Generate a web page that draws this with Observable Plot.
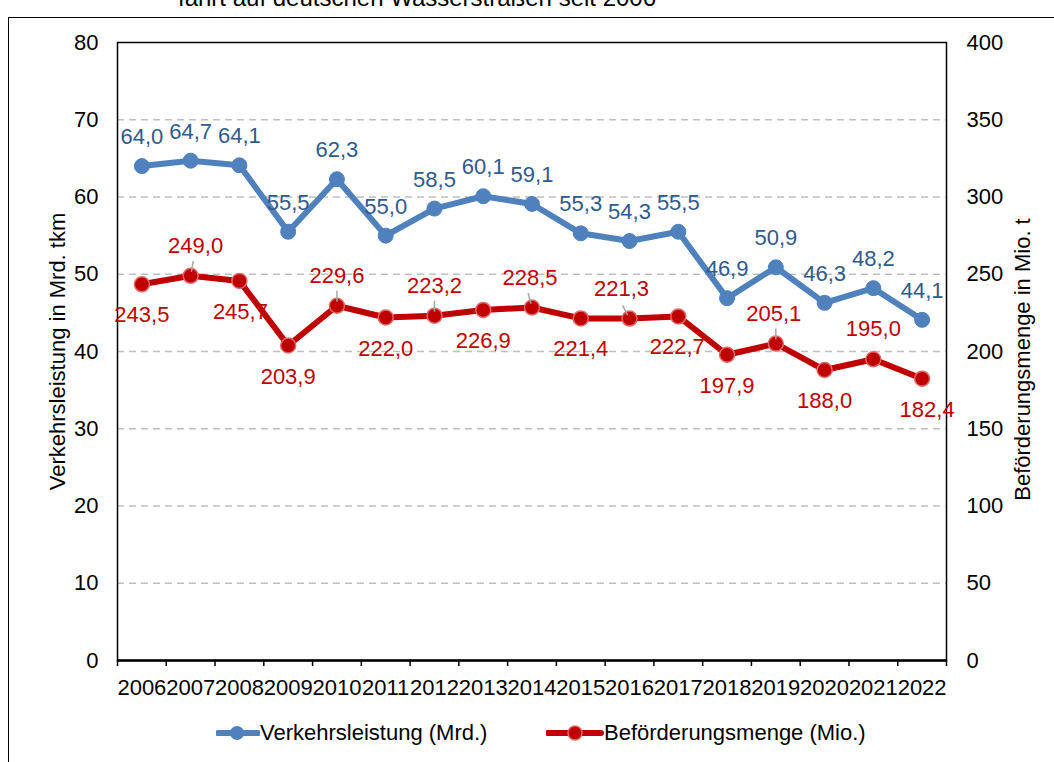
<!DOCTYPE html>
<html>
<head>
<meta charset="utf-8">
<script src="https://cdn.jsdelivr.net/npm/d3@7"></script>
<script src="https://cdn.jsdelivr.net/npm/@observablehq/plot@0.6"></script>
<style>
  html, body { margin: 0; padding: 0; background: #fff; width: 1054px; height: 762px; overflow: hidden; }
  body { position: relative; font-family: "Liberation Sans", Arial, sans-serif; }
  #chart { position: absolute; left: 0; top: 0; }
  #frame { position: absolute; left: 8px; top: 17px; width: 3000px; height: 3000px;
           border-left: 1.5px solid #000; border-top: 1.5px solid #000; pointer-events: none; }
  #title { position: absolute; left: 178px; top: -14px; font-size: 24px; line-height: 24px; white-space: nowrap; color: #000; }
  .leg { position: absolute; top: 721px; height: 24px; display: flex; align-items: center; font-size: 22px; color: #000; white-space: nowrap; }
</style>
</head>
<body>
<div id="title">fahrt auf deutschen Wasserstraßen seit 2006</div>
<div id="chart"></div>
<div id="frame"></div>
<div class="leg" style="left:216px">
  <svg width="44" height="24"><line x1="2" y1="12" x2="42" y2="12" stroke="#4F81BD" stroke-width="6" stroke-linecap="round"/><circle cx="21" cy="12" r="7" fill="#4F81BD"/></svg>
  <span>Verkehrsleistung (Mrd.)</span>
</div>
<div class="leg" style="left:546px">
  <svg width="58" height="24"><line x1="2" y1="12" x2="55" y2="12" stroke="#C00000" stroke-width="6" stroke-linecap="round"/><circle cx="29" cy="12" r="7" fill="#C00000" stroke="#E06a6a" stroke-width="1.5"/></svg>
  <span>Beförderungsmenge (Mio.)</span>
</div>
<script>
// ---- data ----
const years = [2006, 2007, 2008, 2009, 2010, 2011, 2012, 2013, 2014, 2015, 2016, 2017, 2018, 2019, 2020, 2021, 2022];
const verkehrsleistung = [64.0, 64.7, 64.1, 55.5, 62.3, 55.0, 58.5, 60.1, 59.1, 55.3, 54.3, 55.5, 46.9, 50.9, 46.3, 48.2, 44.1];
const befoerderungsmenge = [243.5, 249.0, 245.7, 203.9, 229.6, 222.0, 223.2, 226.9, 228.5, 221.4, 221.3, 222.7, 197.9, 205.1, 188.0, 195.0, 182.4];
const leftTicks = [0, 10, 20, 30, 40, 50, 60, 70, 80];
const rightTickFactor = 5; // right axis (Mio. t) = left axis * 5

// label placement (style): 1 = below, -1 = above
const redLabelSide = [1, -1, 1, 1, -1, 1, -1, 1, -1, 1, -1, 1, 1, -1, 1, -1, 1];
const redLabelShift = [0, 5, 1, 0, 0, 0, 0, 0, -2, 0, -8, -1, 0, -2, 0, 0, 5];
// leader line angle (degrees, 0 = straight up), null = no leader
const redLeader = [null, 10, null, null, 0, null, 0, null, -15, null, -28, null, null, 0, null, null, null];

// ---- layout ----
const W = 1054, H = 762, ML = 117, MR = 108, MT = 42, MB = 102;
const pxPerYear = (W - ML - MR) / years.length;
const pxPerUnit = (H - MT - MB) / 80;
const FS = 22;

const fmt = v => v.toFixed(1).replace(".", ",");
const blue = years.map((year, i) => ({year, v: verkehrsleistung[i], y: verkehrsleistung[i]}));
const red = years.map((year, i) => ({year, v: befoerderungsmenge[i], y: befoerderungsmenge[i] / rightTickFactor,
  side: redLabelSide[i], shift: redLabelShift[i], leader: redLeader[i]}));

const redAbove = red.filter(d => d.side < 0);
const redBelow = red.filter(d => d.side > 0);
const leaders = red.filter(d => d.leader !== null).map(d => {
  const a = d.leader * Math.PI / 180;
  const startOff = 4, len = 11;
  return {
    x1: d.year + (startOff * Math.sin(a)) / pxPerYear,
    y1: d.y + (startOff * Math.cos(a)) / pxPerUnit,
    x2: d.year + ((startOff + len) * Math.sin(a)) / pxPerYear,
    y2: d.y + ((startOff + len) * Math.cos(a)) / pxPerUnit
  };
});

const font = "'Liberation Sans', Arial, sans-serif";

const chart = Plot.plot({
  width: W, height: H,
  marginLeft: ML, marginRight: MR, marginTop: MT, marginBottom: MB,
  style: {fontFamily: font, fontSize: FS + "px", background: "transparent", color: "#000", overflow: "visible"},
  x: {domain: [years[0] - 0.5, years[years.length - 1] + 0.5]},
  y: {domain: [0, 80]},
  marks: [
    Plot.ruleY(leftTicks.filter(t => t > 0 && t < 80), {stroke: "#BFBFBF", strokeWidth: 1.5, strokeDasharray: "7,5"}),
    Plot.axisY({ticks: leftTicks, tickSize: 0, tickPadding: 19, label: null, fontSize: FS}),
    Plot.axisY({anchor: "right", ticks: leftTicks, tickFormat: d => String(d * rightTickFactor), tickSize: 0, tickPadding: 20, label: null, fontSize: FS}),
    Plot.axisX({ticks: d3.range(years[0] - 0.5, years[years.length - 1] + 1, 1), tickSize: 6, tickFormat: () => "", label: null, strokeWidth: 1.5}),
    Plot.axisX({ticks: years, tickSize: 0, tickPadding: 19, tickFormat: d => String(d), label: null, fontSize: FS}),
    Plot.frame({stroke: "#000", strokeWidth: 1.5}),
    Plot.ruleY([0], {stroke: "#000", strokeWidth: 2.5}),
    Plot.text(["Verkehrsleistung in Mrd. tkm"], {frameAnchor: "left", textAnchor: "middle", dx: -60, rotate: -90, fontSize: FS, fill: "#000"}),
    Plot.text(["Beförderungsmenge in Mio. t"], {frameAnchor: "right", textAnchor: "middle", dx: 76, dy: 8, rotate: -90, fontSize: FS, fill: "#000"}),
    // blue series
    Plot.line(blue, {x: "year", y: "y", stroke: "#4F81BD", strokeWidth: 6, strokeLinejoin: "round"}),
    Plot.dot(blue, {x: "year", y: "y", r: 7.5, fill: "#4F81BD", stroke: "#4F81BD", strokeWidth: 1}),
    Plot.text(blue, {x: "year", y: "y", text: d => fmt(d.v), dy: -29, fill: "#2F5A8E", fontSize: FS}),
    // red series
    Plot.line(red, {x: "year", y: "y", stroke: "#C00000", strokeWidth: 6, strokeLinejoin: "round"}),
    Plot.dot(red, {x: "year", y: "y", r: 7.5, fill: "#C00000", stroke: "#E06a6a", strokeWidth: 1.5}),
    Plot.link(leaders, {x1: "x1", y1: "y1", x2: "x2", y2: "y2", stroke: "#A6A6A6", strokeWidth: 1.5}),
    Plot.text(redAbove, {x: d => d.year + d.shift / pxPerYear, y: "y", text: d => fmt(d.v), dy: -30, fill: "#C00000", fontSize: FS}),
    Plot.text(redBelow, {x: d => d.year + d.shift / pxPerYear, y: "y", text: d => fmt(d.v), dy: 31, fill: "#C00000", fontSize: FS})
  ]
});
document.getElementById("chart").appendChild(chart);
</script>
</body>
</html>
